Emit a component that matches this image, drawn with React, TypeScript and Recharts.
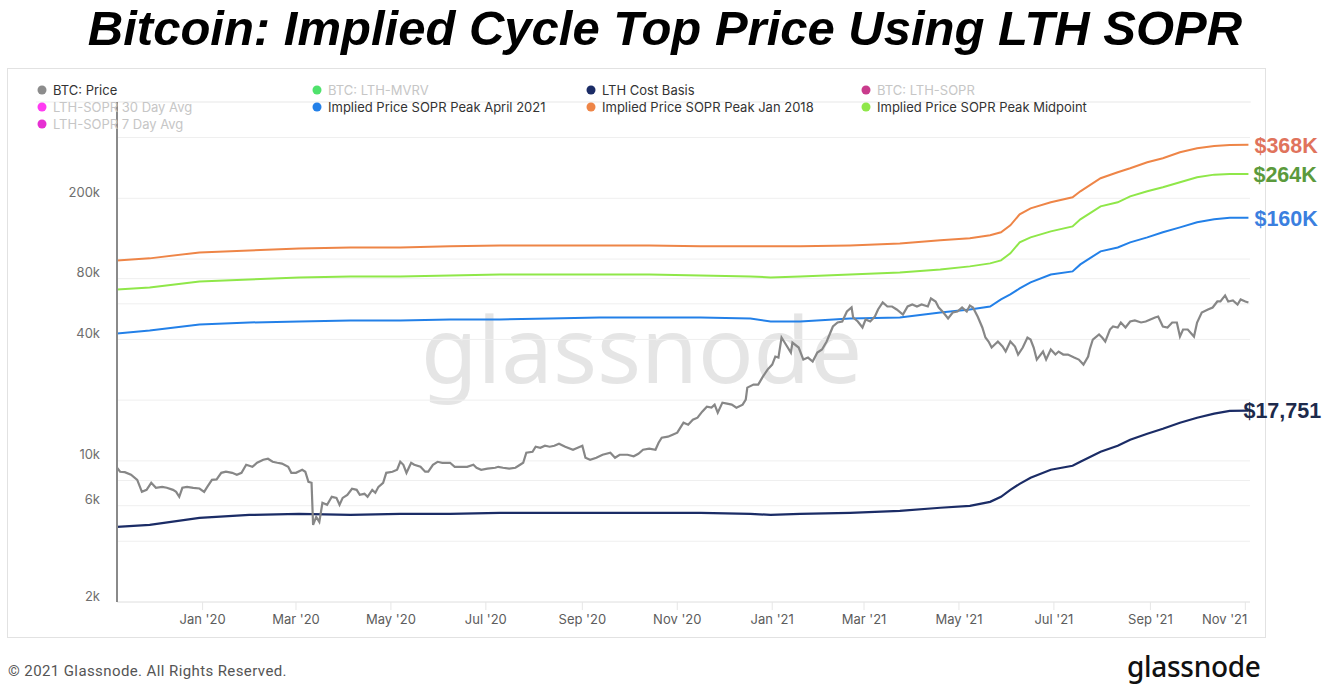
import React from "react";
import { LineChart, Line, XAxis, YAxis, CartesianGrid, LabelList } from "recharts";

const W = 1323;
const H = 687;
const DAY_MS = 86400000;
const ORIGIN = Date.UTC(2020, 0, 1);

// BTC price: days from 1 Jan 2020 and USD
const priceDays = [
  -55, -53, -50, -46, -42, -39, -36, -33, -30, -26,
  -23, -19, -17, -15, -13, -10, -6, -2, 1, 3,
  6, 9, 12, 15, 19, 22, 25, 28, 32, 35,
  39, 42, 45, 48, 51, 55, 57, 60, 64, 66,
  68, 70, 71, 73, 75, 77, 80, 83, 86, 88,
  90, 93, 96, 99, 101, 104, 106, 109, 111, 113,
  116, 118, 122, 125, 127, 129, 131, 134, 136, 140,
  143, 145, 148, 151, 154, 159, 162, 167, 170, 174,
  176, 179, 183, 188, 190, 193, 197, 201, 204, 206,
  208, 212, 214, 217, 220, 223, 226, 229, 233, 238,
  241, 244, 246, 249, 253, 257, 262, 265, 268, 273,
  277, 280, 283, 287, 291, 293, 295, 299, 302, 305,
  309, 312, 315, 318, 321, 324, 327, 329, 331, 334,
  337, 340, 343, 347, 349, 350, 354, 357, 360, 363,
  366, 368, 370, 372, 374, 378, 379, 383, 386, 389,
  392, 395, 398, 401, 405, 408, 411, 414, 417, 418,
  421, 424, 426, 429, 432, 434, 437, 440, 443, 446,
  450, 453, 456, 459, 462, 466, 468, 471, 473, 476,
  479, 482, 485, 488, 491, 493, 495, 498, 501, 503,
  505, 507, 511, 514, 516, 519, 522, 524, 527, 530,
  532, 534, 536, 540, 542, 545, 548, 550, 553, 556,
  560, 563, 566, 569, 570, 572, 576, 578, 580, 583,
  585, 588, 590, 593, 596, 599, 603, 606, 609, 612,
  614, 617, 620, 623, 626, 628, 630, 633, 637, 639,
  642, 646, 649, 652, 654, 657, 659, 662, 665, 667,
  670, 672,
];
const priceUsd = [
  9250, 8840, 8800, 8540, 8060, 7030, 7190, 7790, 7360, 7440,
  7360, 7190, 7030, 6640, 7360, 7440, 7360, 7300, 7030, 7440,
  8060, 8100, 8730, 8840, 8730, 8540, 8730, 9570, 9350, 9790,
  10130, 10250, 9900, 9790, 9700, 9350, 8730, 8730, 9040, 8840,
  7880, 7790, 4820, 5280, 4990, 6200, 6060, 6640, 6560, 6060,
  6560, 6790, 7280, 7190, 6790, 6870, 6640, 7190, 6950, 7440,
  7790, 8730, 8840, 9040, 9900, 9570, 8730, 9790, 9570, 9350,
  8840, 8840, 9570, 9900, 9790, 9790, 9350, 9350, 9350, 9570,
  9250, 9040, 9150, 9250, 9350, 9250, 9150, 9250, 9570, 9790,
  10980, 11100, 11760, 11620, 11890, 11760, 11890, 12170, 11760, 11360,
  11620, 11890, 10370, 10130, 10370, 10730, 10980, 10370, 10730, 10730,
  10550, 10850, 11360, 11490, 11360, 12310, 13030, 13180, 13490, 13800,
  15460, 15110, 16000, 16370, 17540, 18570, 18360, 19000, 17340, 19440,
  19220, 19000, 18360, 19000, 20120, 23070, 23880, 23880, 26170, 28340,
  30020, 32890, 32510, 40860, 38590, 34430, 38590, 36450, 31780, 32510,
  31060, 34430, 35630, 39030, 46330, 48510, 49070, 54990, 57560, 51350,
  49070, 45810, 50200, 49070, 51940, 56260, 60950, 58220, 58220, 56260,
  53140, 58220, 59570, 58220, 59570, 58220, 63800, 61650, 57560, 54370,
  50770, 54370, 54990, 57560, 54990, 58880, 57560, 51940, 45810, 40860,
  39030, 36450, 39030, 36870, 34820, 39030, 36870, 33650, 36450, 40860,
  39930, 36450, 31780, 34820, 31780, 35630, 33650, 34820, 33650, 33650,
  32510, 31780, 30020, 32890, 35630, 39930, 42290, 40860, 39030, 44770,
  46330, 45810, 48510, 45810, 49070, 49630, 48510, 49070, 50200, 51350,
  51940, 46330, 45810, 48510, 48510, 41320, 44770, 44770, 41320, 48510,
  54370, 56260, 57560, 61650, 61650, 66040, 61650, 62350, 59570, 63070,
  61650, 60950,
];

// smoother on-chain series share one set of sample days
const trendDays = [
  -55, -34, -2, 30, 62, 95, 127, 159, 191, 223,
  255, 287, 320, 352, 365, 384, 416, 448, 474, 493,
  506, 513, 519, 525, 532, 545, 559, 564, 577, 588,
  596, 607, 617, 628, 639, 650, 660, 672,
];
const lthCostBasis = [
  4710, 4820, 5220, 5400, 5470, 5400, 5470, 5470, 5530, 5530,
  5530, 5530, 5530, 5470, 5400, 5470, 5530, 5660, 5860, 5990,
  6270, 6640, 7190, 7700, 8250, 9040, 9460, 9900, 11100, 11890,
  12740, 13640, 14440, 15460, 16370, 17140, 17700, 17751,
];
const peakApr2021 = [
  42800, 44300, 47400, 48500, 49100, 49600, 49600, 50200, 50200, 50800,
  51300, 51300, 51300, 50800, 49100, 49100, 50800, 51300, 54400, 56300,
  58200, 63100, 66800, 71500, 76600, 83900, 86900, 94100, 109200, 114200,
  121000, 128100, 135700, 143600, 152100, 157400, 160000, 160000,
];
const peakJan2018 = [
  98500, 100800, 107900, 110400, 112900, 114200, 114200, 115600, 116900, 116900,
  116900, 116900, 115600, 115600, 115600, 115600, 116900, 119600, 123800, 126700,
  131100, 135700, 146900, 166600, 178400, 191100, 202300, 216600, 251400, 269300,
  281800, 301800, 315900, 338400, 354200, 363000, 367000, 368000,
];
const peakMidpoint = [
  70700, 72300, 77500, 79300, 81100, 82000, 82000, 83000, 83900, 83900,
  83900, 83900, 83000, 82000, 81100, 82000, 83900, 85900, 88900, 92000,
  95200, 98500, 106700, 121000, 128100, 137200, 145200, 157400, 182500, 191100,
  204600, 216600, 226800, 240200, 254400, 262000, 264000, 264000,
];

const xTickDates = [
  "2020-01-01", "2020-03-01", "2020-05-01", "2020-07-01", "2020-09-01", "2020-11-01",
  "2021-01-01", "2021-03-01", "2021-05-01", "2021-07-01", "2021-09-01", "2021-11-01",
];
const yTicks = [2000, 4000, 6000, 8000, 10000, 20000, 40000, 60000, 80000, 100000, 200000, 400000, 600000];
const yTickLabels = [2000, 6000, 10000, 40000, 80000, 200000];
const MONTHS = ["Jan", "Feb", "Mar", "Apr", "May", "Jun", "Jul", "Aug", "Sep", "Oct", "Nov", "Dec"];

const legendItems = [
  { name: "BTC: Price", color: "#8c8c8c", on: true, col: 0, row: 0 },
  { name: "BTC: LTH-MVRV", color: "#4fe26c", on: false, col: 1, row: 0 },
  { name: "LTH Cost Basis", color: "#1b2c66", on: true, col: 2, row: 0 },
  { name: "BTC: LTH-SOPR", color: "#c93b8c", on: false, col: 3, row: 0 },
  { name: "LTH-SOPR 30 Day Avg", color: "#ff3cf2", on: false, col: 0, row: 1 },
  { name: "Implied Price SOPR Peak April 2021", color: "#2380e8", on: true, col: 1, row: 1 },
  { name: "Implied Price SOPR Peak Jan 2018", color: "#ee8547", on: true, col: 2, row: 1 },
  { name: "Implied Price SOPR Peak Midpoint", color: "#8fe749", on: true, col: 3, row: 1 },
  { name: "LTH-SOPR 7 Day Avg", color: "#e630d2", on: false, col: 0, row: 2 },
];
const legendCols = [42, 317, 591, 866];
const legendRows = [90, 107, 124];

const FONT = "Inter, 'Noto Sans', sans-serif";
const BOLD = "'Liberation Sans', Arial, sans-serif";

const toSeries = (days: number[], values: number[]) =>
  days.map((d, i) => ({ t: ORIGIN + d * DAY_MS, v: values[i] }));

const priceData = toSeries(priceDays, priceUsd);
const costData = toSeries(trendDays, lthCostBasis);
const aprData = toSeries(trendDays, peakApr2021);
const janData = toSeries(trendDays, peakJan2018);
const midData = toSeries(trendDays, peakMidpoint);
const xTicks = xTickDates.map((s) => Date.parse(s));

const kLabel = (v: number) => `$${Math.round(v / 1000)}K`;

const endLabel = (text: string, color: string, dx: number, lastIndex: number) => (props: any) => {
  if (props.index !== lastIndex) return null;
  return (
    <text x={props.x + dx} y={props.y} dy="0.36em" fontSize={21.5} fontWeight={700} fill={color} fontFamily={BOLD}>
      {text}
    </text>
  );
};

function YTick(props: any) {
  const { y, payload } = props;
  if (!yTickLabels.includes(payload.value)) return null;
  return (
    <text x={100} y={y - 6} dy="0.35em" textAnchor="end" fontSize={13} fill="#6e6e6e" fontFamily={FONT}>
      {`${payload.value / 1000}k`}
    </text>
  );
}

function XTick(props: any) {
  const { x, y, payload } = props;
  const d = new Date(payload.value);
  const last = payload.value === xTicks[xTicks.length - 1];
  return (
    <text x={last ? x + 2 : x} y={y} dy={12} textAnchor={last ? "end" : "middle"} fontSize={13} fill="#5c5c5c" fontFamily={FONT}>
      {`${MONTHS[d.getUTCMonth()]} '${String(d.getUTCFullYear()).slice(2)}`}
    </text>
  );
}

export default function App() {
  return (
    <div style={{ position: "relative", width: W, height: H, background: "#fff", overflow: "hidden" }}>
      <style>{"body{margin:0}"}</style>
      <svg width={W} height={H} style={{ position: "absolute", left: 0, top: 0 }}>
        <rect x={7.5} y={68.5} width={1258} height={569} fill="#fff" stroke="#e2e2e2" />
        <line x1={36} x2={1251} y1={102} y2={102} stroke="#efefef" />
        <text x={421} y={383} fontSize={92} fill="#e5e5e5" fontFamily="'Noto Sans', sans-serif">
          glassnode
        </text>
      </svg>
      <div style={{ position: "absolute", left: 0, top: 0 }}>
        <LineChart width={W} height={H} margin={{ top: 102, right: 73, bottom: 0, left: 0 }}>
          <CartesianGrid vertical={false} stroke="#efefef" />
          <XAxis
            dataKey="t"
            type="number"
            domain={[ORIGIN - 55 * DAY_MS, ORIGIN + 673 * DAY_MS]}
            ticks={xTicks}
            interval={0}
            height={85}
            tickSize={8}
            axisLine={{ stroke: "#e6e6e6" }}
            tickLine={{ stroke: "#e6e6e6" }}
            tick={<XTick />}
            allowDataOverflow
          />
          <YAxis
            type="number"
            scale="log"
            domain={[2000, 600000]}
            ticks={yTicks}
            interval={0}
            width={117}
            axisLine={{ stroke: "#8a8a8a", strokeWidth: 2 }}
            tickLine={false}
            tick={<YTick />}
            allowDataOverflow
          />
          <Line data={costData} dataKey="v" stroke="#1b2c66" strokeWidth={2.2} dot={false} isAnimationActive={false}>
            <LabelList dataKey="v" content={endLabel(`$${lthCostBasis[lthCostBasis.length - 1].toLocaleString("en-US")}`, "#1d2a4b", -5, costData.length - 1)} />
          </Line>
          <Line data={aprData} dataKey="v" stroke="#2380e8" strokeWidth={2} dot={false} isAnimationActive={false}>
            <LabelList dataKey="v" content={endLabel(kLabel(peakApr2021[peakApr2021.length - 1]), "#3b7fdf", 6, aprData.length - 1)} />
          </Line>
          <Line data={janData} dataKey="v" stroke="#ee8547" strokeWidth={2} dot={false} isAnimationActive={false}>
            <LabelList dataKey="v" content={endLabel(kLabel(peakJan2018[peakJan2018.length - 1]), "#e0735c", 6, janData.length - 1)} />
          </Line>
          <Line data={midData} dataKey="v" stroke="#8fe749" strokeWidth={2} dot={false} isAnimationActive={false}>
            <LabelList dataKey="v" content={endLabel(kLabel(peakMidpoint[peakMidpoint.length - 1]), "#5b9a3c", 5, midData.length - 1)} />
          </Line>
          <Line data={priceData} dataKey="v" stroke="#878787" strokeWidth={2.2} dot={false} isAnimationActive={false} />
        </LineChart>
      </div>
      <svg width={W} height={H} style={{ position: "absolute", left: 0, top: 0, pointerEvents: "none" }}>
        <text x={665} y={45} textAnchor="middle" fontSize={49} fontWeight={700} fontStyle="italic" fill="#000" fontFamily={BOLD}>
          Bitcoin: Implied Cycle Top Price Using LTH SOPR
        </text>
        {legendItems.map((it) => (
          <g key={it.name}>
            <circle cx={legendCols[it.col]} cy={legendRows[it.row]} r={4.5} fill={it.color} />
            <text x={legendCols[it.col] + 11} y={legendRows[it.row]} dy="0.35em" fontSize={13} fill={it.on ? "#333" : "#c6c6c6"} fontFamily={FONT}>
              {it.name}
            </text>
          </g>
        ))}
        <text x={8} y={676} fontSize={15} letterSpacing={0.4} fill="#555" fontFamily="Roboto, sans-serif">
          © 2021 Glassnode. All Rights Reserved.
        </text>
        <text x={1127} y={677} fontSize={28} fontWeight={500} letterSpacing={-0.3} fill="#111" fontFamily="'Noto Sans', sans-serif">
          glassnode
        </text>
      </svg>
    </div>
  );
}
